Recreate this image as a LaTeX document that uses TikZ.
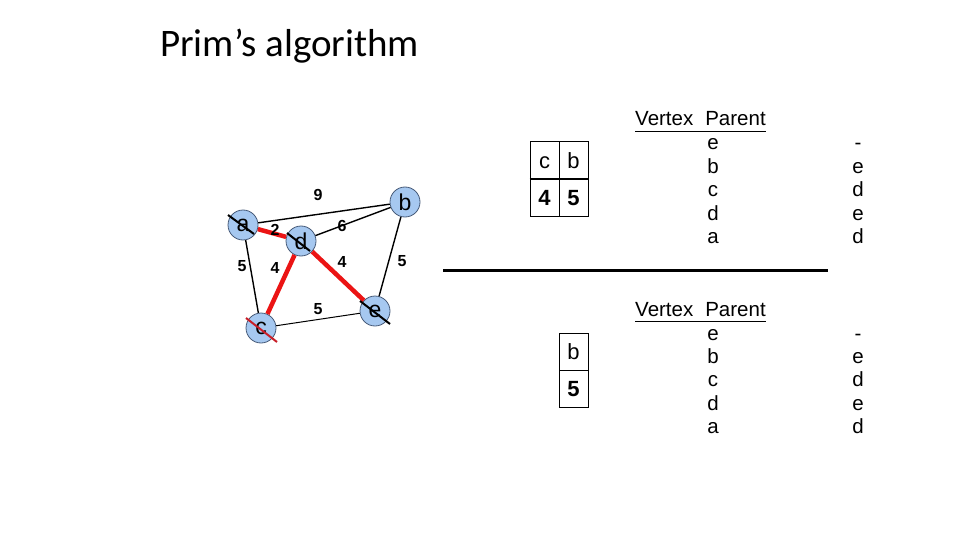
\documentclass[tikz,border=0pt]{standalone}
\usepackage{fontspec}
\setmainfont{Liberation Sans}
\newfontfamily\titlefont{Carlito}
\usetikzlibrary{calc}
\definecolor{nodefill}{RGB}{166,200,240}
\definecolor{nodeline}{RGB}{70,90,120}
\definecolor{mstred}{RGB}{235,20,20}
\definecolor{strikered}{RGB}{200,30,40}
\tikzset{
  vtx/.style={circle, draw=nodeline, line width=0.8pt, fill=nodefill, minimum size=30pt, inner sep=0pt, font=\fontsize{23}{23}\selectfont},
  edge/.style={line width=1.4pt, black},
  thinedge/.style={line width=1pt, black},
  mst/.style={line width=4.5pt, mstred},
  strike/.style={line width=2pt, black},
  strikec/.style={line width=2pt, strikered},
  wlabel/.style={font=\bfseries\fontsize{16}{16}\selectfont, inner sep=0pt},
  cell/.style={draw, line width=1pt, minimum width=29pt, minimum height=37pt, inner sep=0pt, text height=16pt, text depth=0pt, font=\fontsize{22}{22}\selectfont},
  txt/.style={anchor=base, inner sep=0pt, font=\fontsize{20.5}{20.5}\selectfont},
}
\begin{document}
\begin{tikzpicture}[x=1pt, y=-1pt]
\useasboundingbox (0,0) rectangle (960,540);
% title
\node[anchor=base west, inner sep=0pt, font=\titlefont\fontsize{39}{39}\selectfont] (title) at (160,57) {Prim’s algorithm};
% graph nodes
\node[vtx] (a) at (243,225) {a};
\node[vtx] (b) at (405,202) {b};
\node[vtx] (d) at (301,241) {d};
\node[vtx] (c) at (261,328) {c};
\node[vtx] (e) at (375,311) {e};
% edges
\draw[edge] (a) -- (b);
\draw[edge] (d) -- (b);
\draw[edge] (a) -- (c);
\draw[edge] (b) -- (e);
\draw[thinedge] (c) -- (e);
\draw[mst] (a) -- (d);
\draw[mst] (d) -- (c);
\draw[mst] (d) -- (e);
% strike marks
\draw[strike] ($(a)+(-15,-10)$) -- ($(a)+(11,9)$);
\draw[strike] ($(d)+(-14,-8)$) -- ($(d)+(9,10)$);
\draw[strike] ($(e)+(-15,-10)$) -- ($(e)+(15,13)$);
\draw[strikec] ($(c)+(-15,-10)$) -- ($(c)+(16,14)$);
% weights
\node[wlabel] (w9) at (318,195) {9};
\node[wlabel] (w2) at (275,230) {2};
\node[wlabel] (w6) at (342,226) {6};
\node[wlabel] (w5a) at (242,266) {5};
\node[wlabel] (w4a) at (275,268) {4};
\node[wlabel] (w4b) at (342,262) {4};
\node[wlabel] (w5b) at (402,261) {5};
\node[wlabel] (w5c) at (318,309) {5};
% top priority table
\node[cell] (t1) at (544.5,160.5) {c};
\node[cell] (t2) at (573.5,160.5) {b};
\node[cell, font=\bfseries\fontsize{22}{22}\selectfont] (t3) at (544.5,197.5) {4};
\node[cell, font=\bfseries\fontsize{22}{22}\selectfont] (t4) at (573.5,197.5) {5};
\draw[line width=2pt] (t1.south west) -- (t2.south east);
% bottom priority table
\node[cell] (u1) at (573.5,351.5) {b};
\node[cell, font=\bfseries\fontsize{22}{22}\selectfont] (u2) at (573.5,388.5) {5};
% separator
\coordinate (s1) at (443,270.5);
\coordinate (s2) at (828,270.5);
\draw[line width=3.3pt] (s1) -- (s2);
% vertex/parent table 1
\node[txt, anchor=base west] (h1) at (635,126) {Vertex\hspace{12pt}Parent};
\draw[line width=1.6pt] ([yshift=-5.5pt]h1.base west) -- ([yshift=-5.5pt]h1.base east);
\node[txt] (v1) at (713,150) {e};
\node[txt] (v2) at (713,173.3) {b};
\node[txt] (v3) at (713,196.7) {c};
\node[txt] (v4) at (713,220) {d};
\node[txt] (v5) at (713,243.3) {a};
\node[txt] (p1) at (858,150) {-};
\node[txt] (p2) at (858,173.3) {e};
\node[txt] (p3) at (858,196.7) {d};
\node[txt] (p4) at (858,220) {e};
\node[txt] (p5) at (858,243.3) {d};
% vertex/parent table 2
\node[txt, anchor=base west] (h2) at (635,316) {Vertex\hspace{12pt}Parent};
\draw[line width=1.6pt] ([yshift=-5.5pt]h2.base west) -- ([yshift=-5.5pt]h2.base east);
\node[txt] (q1) at (713,340) {e};
\node[txt] (q2) at (713,363.3) {b};
\node[txt] (q3) at (713,386.7) {c};
\node[txt] (q4) at (713,410) {d};
\node[txt] (q5) at (713,433.3) {a};
\node[txt] (r1) at (858,340) {-};
\node[txt] (r2) at (858,363.3) {e};
\node[txt] (r3) at (858,386.7) {d};
\node[txt] (r4) at (858,410) {e};
\node[txt] (r5) at (858,433.3) {d};
\end{tikzpicture}
\end{document}
